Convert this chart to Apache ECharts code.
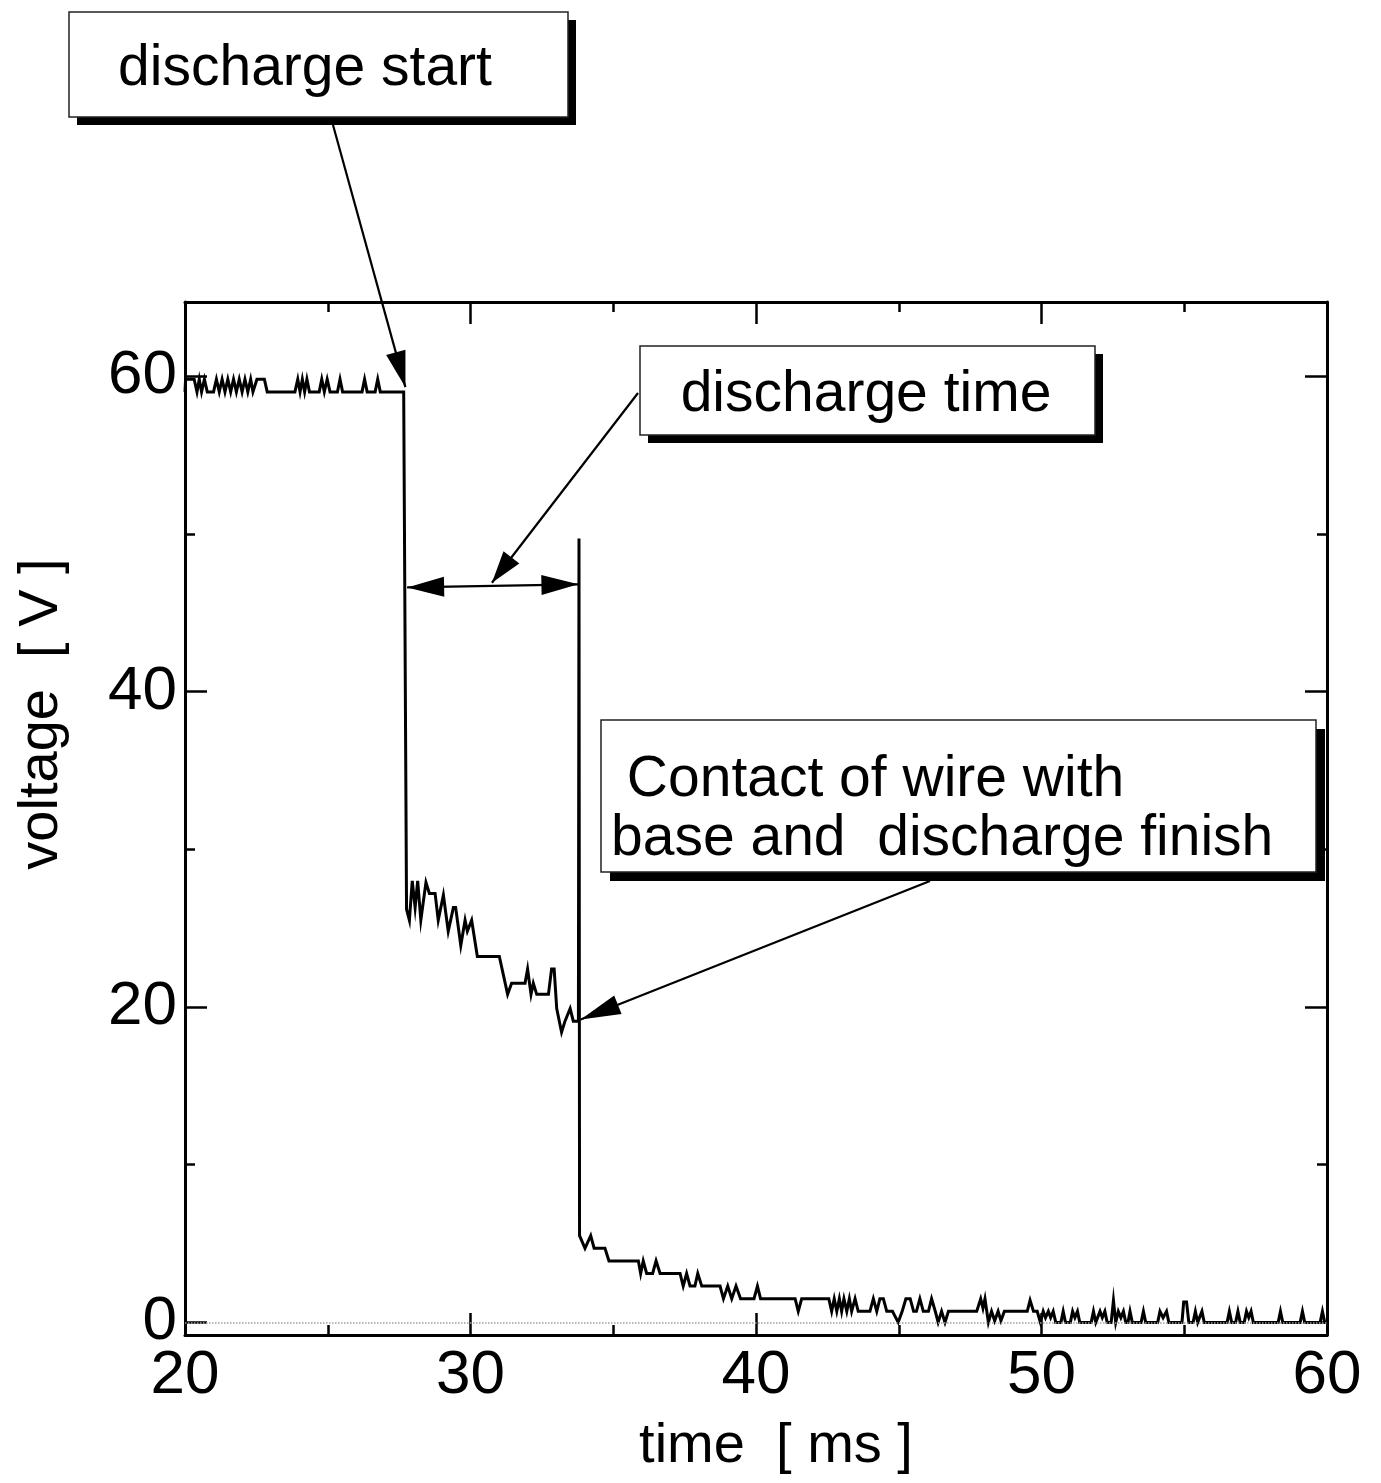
<!DOCTYPE html>
<html>
<head>
<meta charset="utf-8">
<script src="https://cdn.jsdelivr.net/npm/echarts@6/dist/echarts.min.js"></script>
<style>
html,body{margin:0;padding:0;background:#fff;}
#chart{width:1381px;height:1483px;}
</style>
</head>
<body>
<div id="chart"></div>
<script>
// ---- data (time in ms, voltage in V) ----
const baselineSeg = [[20.00,59.0],[20.02,59.8],[20.32,59.8],[20.42,59.0],
  [20.50,59.8],[20.58,59.0],[20.68,59.8],[20.78,59.0],
  [21.00,59.0],[21.10,59.8],[21.20,59.0],[21.30,59.8],[21.40,59.0],[21.50,59.8],[21.60,59.0],[21.70,59.8],[21.80,59.0],[21.90,59.8],[22.00,59.0],[22.10,59.8],[22.20,59.0],[22.30,59.8],[22.38,59.0],
  [22.44,59.0],[22.52,59.8],[22.78,59.8],[22.88,59.0],
  [23.85,59.0],[23.95,59.8],[24.03,59.0],[24.11,59.8],[24.19,59.0],[24.27,59.8],[24.36,59.0],
  [24.70,59.0],[24.79,59.8],[24.88,59.0],[24.98,59.8],[25.08,59.0],
  [25.34,59.0],[25.43,59.8],[25.52,59.0],
  [26.20,59.0],[26.29,59.8],[26.38,59.0],
  [26.66,59.0],[26.75,59.8],[26.84,59.0],
  [27.66,59.0]];
const dischargeSeg = [[27.76,26.2],[27.86,25.5],[27.96,28.0],[28.06,26.3],[28.15,28.0],[28.26,25.5],[28.44,27.9],[28.56,27.2],[28.76,27.2],[28.87,25.5],[29.05,27.1],[29.22,24.8],[29.40,26.3],[29.48,26.3],[29.66,23.9],[29.81,25.5],[29.89,24.8],[30.04,25.5],[30.24,23.2],[31.01,23.2],[31.30,20.8],[31.44,21.5],[31.91,21.5],[32.00,22.4],[32.12,20.8],[32.20,21.5],[32.32,20.8],[32.73,20.8],[32.84,22.4],[32.93,22.4],[33.02,19.9],[33.19,18.4],[33.31,19.1],[33.49,19.9],[33.60,19.1],[33.78,19.1],[33.80,49.7],[33.82,5.5]];
const decaySeg = [[34.01,4.7],[34.21,5.5],[34.33,4.7],[34.71,4.7],[34.85,3.9],[35.88,3.9],[35.96,3.1],[36.05,3.9],[36.17,3.1],[36.38,3.1],[36.50,3.9],[36.64,3.1],[37.34,3.1],[37.45,2.3],[37.57,3.1],[37.69,2.3],[37.86,2.3],[37.96,3.1],[38.10,2.3],[38.74,2.3],[38.86,1.5],[39.01,2.3],[39.15,1.5],[39.30,2.3],[39.46,1.5],[39.93,1.5],[40.05,2.3],[40.16,1.5],[41.37,1.5],[41.48,0.7],[41.60,1.5],[42.55,1.5],[42.65,0.7],[42.74,1.5],[42.83,0.7],[42.92,1.5],[43.00,0.7],[43.08,1.5],[43.18,0.7],[43.27,1.5],[43.35,0.7],[43.47,1.5],[43.58,0.7]];
const tailSeg1 = [[43.99,0.7],[44.11,1.5],[44.23,0.7],[44.34,1.5],[44.46,1.5],[44.58,0.7],[44.78,0.7],[44.98,0],[45.12,0.7],[45.25,1.5],[45.40,1.5],[45.52,0.7],[45.62,0.7],[45.74,1.5],[45.86,0.7],[46.04,0.7],[46.15,1.5],[46.28,0.7],[46.38,0],[46.50,0.7],[46.62,0],[46.74,0.7],[47.73,0.7],[47.87,1.5],[47.95,0.9],[48.02,1.5],[48.14,0],[48.25,0.7],[48.36,0.1],[48.48,0.7],[48.58,0.1],[48.70,0.7],[49.50,0.7],[49.60,1.4],[49.72,0.7],[49.85,0.7],[49.96,0]];
const tailSeg2 = [[50.06,0.7],[50.14,0.3],[50.24,0.7],[50.32,0.3],[50.41,0.7],[50.50,0],[50.68,0],[50.76,0.7],[50.84,0],[51.01,0],[51.09,0.7],[51.17,0.3],[51.26,0.7],[51.34,0],[51.74,0],[51.82,0.7],[51.90,0],[51.97,0],[52.05,0.7],[52.13,0.3],[52.22,0.7],[52.30,0],[52.44,0],[52.52,1.4],[52.60,0],[52.69,0.7],[52.78,0.3],[52.87,0.7],[52.95,0],[53.03,0],[53.10,0.7],[53.18,0],[53.49,0],[53.57,0.7],[53.65,0],[54.07,0],[54.15,0.7],[54.26,0.3],[54.38,0.7],[54.46,0],[54.92,0],[54.98,1.3],[55.08,1.3],[55.16,0],[55.31,0],[55.39,0.7],[55.47,0],[55.54,0],[55.62,0.7],[55.70,0],[56.50,0],[56.58,0.7],[56.66,0],[56.80,0],[56.88,0.7],[56.96,0],[57.10,0],[57.18,0.7],[57.26,0.3],[57.34,0.7],[57.42,0],[58.29,0],[58.37,0.7],[58.45,0],[59.06,0],[59.14,0.7],[59.22,0],[59.76,0],[59.84,0.7],[59.92,0],[60.00,0]];

const xTicks = [20, 30, 40, 50, 60];
const yLabelValues = [0, 20, 40, 60];
const yMinorValues = [10, 30, 50];

// annotation anchor points (data coords)
const startTip = [27.72, 59.3];
const spanLeft = [27.78, 46.6];
const spanRight = [33.78, 46.8];
const spanMid = [30.75, 46.9];
const finishTip = [33.86, 19.2];

const FONT = '"Liberation Sans", Arial, Helvetica, sans-serif';
const trace = baselineSeg.concat(dischargeSeg, decaySeg, tailSeg1, tailSeg2);

const chart = echarts.init(document.getElementById('chart'), null, {renderer: 'canvas'});

function lineAx() { return {show: true, onZero: false, lineStyle: {color: '#000', width: 3}}; }
function xAx(pos, showLabel) {
  return {
    type: 'value', position: pos, min: 20, max: 60, interval: 10,
    axisLine: lineAx(),
    axisTick: {show: true, inside: true, length: 22, lineStyle: {color: '#000', width: 2.5}},
    minorTick: {show: true, splitNumber: 2, length: 10, lineStyle: {color: '#000', width: 2.5}},
    axisLabel: {show: showLabel, color: '#000', fontSize: 62, fontFamily: FONT, margin: 10,
      formatter: v => xTicks.includes(v) ? String(v) : ''},
    splitLine: {show: false},
    name: showLabel ? 'time  [ ms ]' : '',
    nameLocation: 'middle', nameGap: 84,
    nameTextStyle: {color: '#000', fontSize: 56, fontFamily: FONT, padding: [0, 0, 0, 40]}
  };
}
function yAx(pos, values, len, showLine, showLabel) {
  return {
    type: 'value', position: pos, min: -0.8, max: 64.7,
    axisLine: showLine ? lineAx() : {show: false, onZero: false},
    axisTick: {show: true, inside: true, length: len, customValues: values, lineStyle: {color: '#000', width: 2.5}},
    axisLabel: showLabel ? {show: true, customValues: values, color: '#000', fontSize: 62, fontFamily: FONT, margin: 8}
                         : {show: false},
    splitLine: {show: false}
  };
}

chart.setOption({
  animation: false,
  backgroundColor: '#fff',
  grid: {left: 185, top: 302, right: 54, bottom: 148, containLabel: false},
  xAxis: [xAx('bottom', true), xAx('top', false)],
  yAxis: [
    yAx('left', yLabelValues, 22, true, true),
    yAx('left', yMinorValues, 10, false, false),
    yAx('right', yLabelValues, 22, true, false),
    yAx('right', yMinorValues, 10, false, false)
  ],
  series: [{
    type: 'line', data: trace, xAxisIndex: 0, yAxisIndex: 0,
    showSymbol: false, symbol: 'none',
    lineStyle: {color: '#000', width: 3, join: 'miter'},
    markLine: {
      silent: true, symbol: ['none', 'none'], label: {show: false},
      lineStyle: {color: '#a0a0a0', type: 'dotted', width: 1.5},
      data: [{yAxis: 0}]
    },
    z: 3
  }]
});

function P(pt) { return chart.convertToPixel({xAxisIndex: 0, yAxisIndex: 0}, pt); }
function head(tip, from, len, halfW) {
  const dx = tip[0] - from[0], dy = tip[1] - from[1];
  const d = Math.sqrt(dx * dx + dy * dy);
  const ux = dx / d, uy = dy / d;
  const bx = tip[0] - ux * len, by = tip[1] - uy * len;
  return {type: 'polygon', z: 20, shape: {points: [tip, [bx - uy * halfW, by + ux * halfW], [bx + uy * halfW, by - ux * halfW]]},
    style: {fill: '#000'}};
}
function seg(a, b) {
  return {type: 'line', z: 20, shape: {x1: a[0], y1: a[1], x2: b[0], y2: b[1]}, style: {stroke: '#000', lineWidth: 2.2}};
}
function box(x, y, w, h, off) {
  return [
    {type: 'rect', z: 18, shape: {x: x + off, y: y + off, width: w, height: h}, style: {fill: '#000'}},
    {type: 'rect', z: 19, shape: {x: x, y: y, width: w, height: h}, style: {fill: '#fff', stroke: '#222', lineWidth: 1.5}}
  ];
}
function txt(s, x, y, size, align) {
  return {type: 'text', z: 21, style: {text: s, x: x, y: y, font: size + 'px ' + FONT, fill: '#000',
    textAlign: align || 'center', textVerticalAlign: 'middle', verticalAlign: 'middle'}};
}

const tip1 = P(startTip), tail1 = [333, 125];
const tip2 = P(spanMid), tail2 = [638, 393];
const sl = P(spanLeft), sr = P(spanRight);
const tip4 = P(finishTip), tail4 = [930, 881];

const g = [].concat(
  box(69, 12, 499, 105, 8),
  [txt('discharge start', 305, 69, 57)],
  box(640, 346, 455, 89, 8),
  [txt('discharge time', 866, 395, 57)],
  box(601, 720, 715, 152, 9),
  [txt(' Contact of wire with', 611, 780, 57, 'left'), txt('base and  discharge finish', 611, 839, 57, 'left')],
  [seg(tail1, tip1), head(tip1, tail1, 36, 10)],
  [seg(tail2, tip2), head(tip2, tail2, 32, 10)],
  [seg(sl, sr), head(sl, sr, 37, 10), head(sr, sl, 37, 10)],
  [seg(tail4, tip4), head(tip4, tail4, 40, 10)],
  [{type: 'text', z: 21, x: 42, y: 714, rotation: Math.PI / 2,
    style: {text: 'voltage  [ V ]', x: 0, y: 0, font: '56px ' + FONT, fill: '#000',
      textAlign: 'center', textVerticalAlign: 'middle', verticalAlign: 'middle'}}]
);
chart.setOption({graphic: g});
</script>
</body>
</html>
